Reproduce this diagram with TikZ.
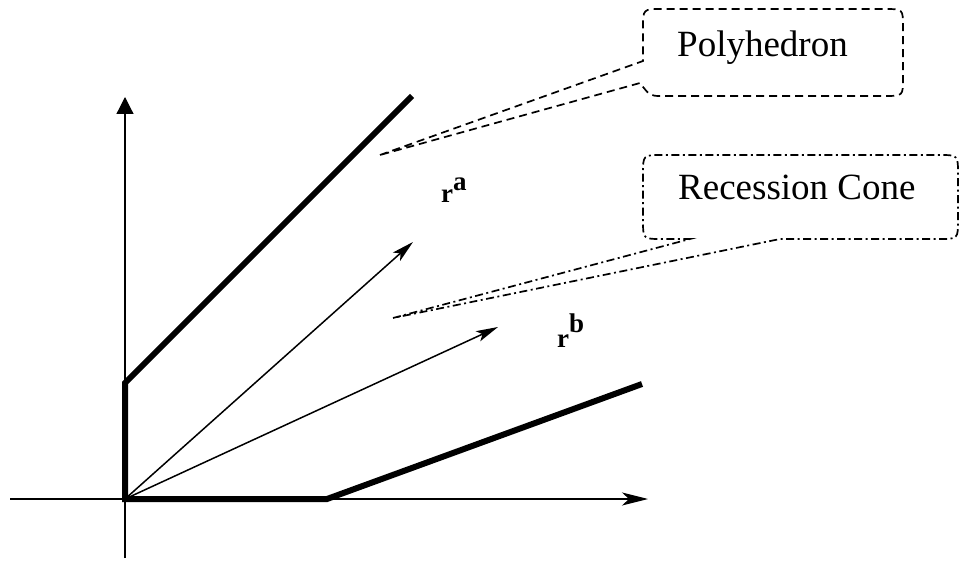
\documentclass[tikz,border=0pt]{standalone}
\usepackage{fontspec}
\setmainfont{Liberation Serif}
\usetikzlibrary{arrows.meta}
\begin{document}
\begin{tikzpicture}[x=1pt,y=-1pt,
  axis/.style={line width=1.2pt},
  polyline/.style={line width=6pt,line join=miter},
  ray/.style={line width=1.5pt,-{Stealth[length=22pt,width=11pt,inset=5pt]}},
  calloutA/.style={line width=1.7pt,dash pattern=on 8pt off 5pt},
  calloutB/.style={line width=1.7pt,dash pattern=on 8pt off 3.5pt on 2pt off 3.5pt},
  lbl/.style={anchor=base west,inner sep=0pt,font=\fontsize{37}{40}\selectfont},
  rlbl/.style={anchor=base west,inner sep=0pt,font=\fontsize{27}{29}\selectfont\bfseries}]
\useasboundingbox (0,0) rectangle (961,561);
% coordinates
\coordinate (O) at (125,499);
\coordinate (xs) at (10,499);
\coordinate (xe) at (648,499);
\coordinate (ys) at (125,558);
\coordinate (ye) at (125,97);
\coordinate (p1) at (412,96);
\coordinate (p2) at (125,383);
\coordinate (p3) at (327,499);
\coordinate (p4) at (642,384);
\coordinate (ra) at (413,242);
\coordinate (rb) at (498,327);
% axes
\draw[axis,-{Triangle[length=17pt,width=17pt]}] (ys) -- (ye);
\draw[axis,-{Stealth[length=26pt,width=13pt,inset=7pt]}] (xs) -- (xe);
% polyhedron boundary
\draw[polyline] (p1) -- (p2) -- (O) -- (p3) -- (p4);
% rays
\draw[ray] (O) -- (ra);
\draw[ray] (O) -- (rb);
% labels
\node[rlbl] (la) at (441,203) {r\raisebox{12pt}{a}};
\node[rlbl] (lb) at (557,347) {r\raisebox{14pt}{b}};
% Polyhedron callout
\coordinate (tA) at (380,155);
\draw[calloutA] (tA) -- (643,61) -- (643,28) .. controls (643,9) .. (662,9)
  -- (885,9) .. controls (903,9) .. (903,27) -- (903,78) .. controls (903,96) .. (885,96)
  -- (662,96) .. controls (650,96) .. (640,83) -- cycle;
\node[lbl] (tpoly) at (677,57) {Polyhedron};
% Recession cone callout
\coordinate (tB) at (393,318);
\draw[calloutB] (tB) -- (690,239) -- (662,239) .. controls (643,239) .. (643,220)
  -- (643,174) .. controls (643,155) .. (662,155) -- (939,155) .. controls (958,155) .. (958,174)
  -- (958,220) .. controls (958,239) .. (939,239) -- (780,239) -- cycle;
\node[lbl] (tcone) at (678,200) {Recession Cone};
\end{tikzpicture}
\end{document}
